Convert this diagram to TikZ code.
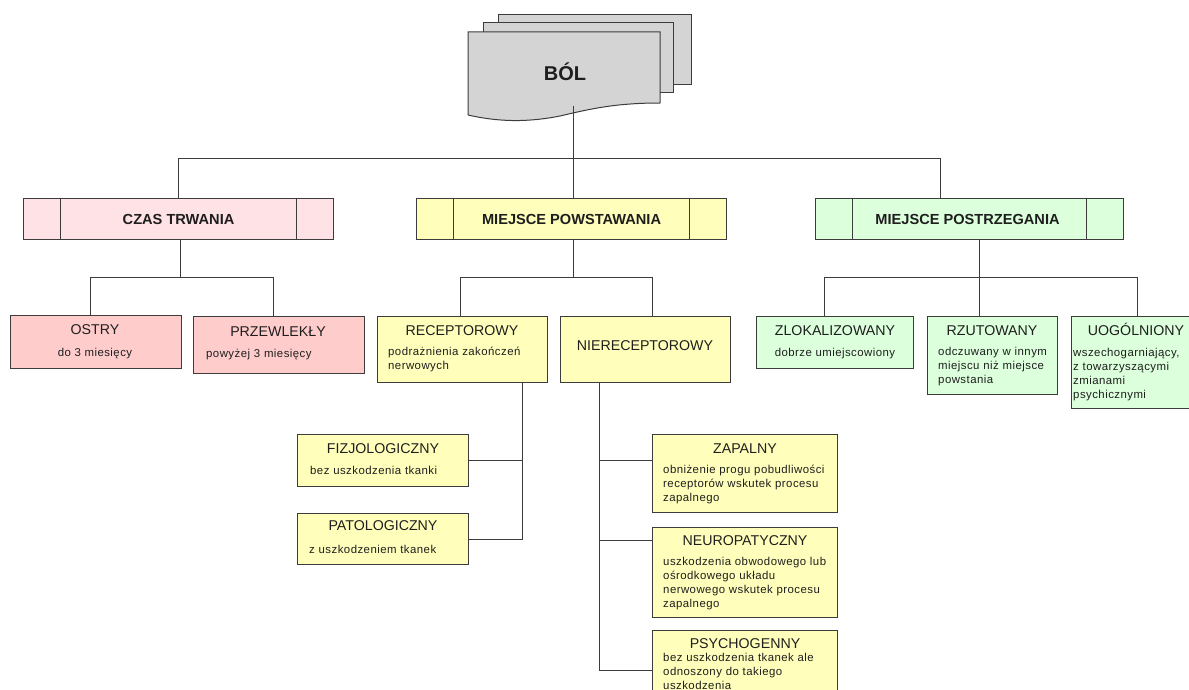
\documentclass[tikz,border=0pt]{standalone}
\usepackage{fontspec}
\setmainfont{Liberation Sans}
\newfontfamily\descfont[LetterSpace=4]{Liberation Sans}
\usepackage{xcolor}
\usepackage{tikz}
\definecolor{pinkhead}{RGB}{255,226,230}
\definecolor{pinkbox}{RGB}{255,204,204}
\definecolor{yellowbox}{RGB}{255,255,187}
\definecolor{greenbox}{RGB}{220,255,220}
\definecolor{docgray}{RGB}{212,212,212}
\definecolor{linegray}{RGB}{60,60,60}
\definecolor{txt}{RGB}{30,30,30}

\begin{document}
\begin{tikzpicture}[x=1pt, y=-1pt,
    box/.style={draw=linegray, line width=1.1pt, inner sep=0pt, anchor=north west},
    head/.style={font=\fontsize{14.6}{16}\selectfont\bfseries, text=txt, inner sep=0pt},
    title/.style={font=\fontsize{14.2}{16}\selectfont, text=txt, inner sep=0pt, anchor=base},
    desc/.style={font=\descfont\fontsize{11.4}{14}\selectfont, text=txt, inner sep=0pt, anchor=base west, align=left},
    link/.style={draw=linegray, line width=1pt}]
    \path[use as bounding box, fill=white] (0,0) rectangle (1189,690);

    % Draw the document stack
    \filldraw[fill=docgray, draw=linegray, line width=1pt] (498,15) rectangle (691,85);
    \filldraw[fill=docgray, draw=linegray, line width=1pt] (483,23) rectangle (673,93);
    \filldraw[fill=docgray, draw=linegray, line width=1pt] (468,32) -- (660,32) -- (660,103)
        .. controls (615,103) and (590,109) .. (560,116)
        .. controls (520,124) and (490,120) .. (468,115) -- cycle;
    \node[head, font=\fontsize{20}{22}\selectfont\bfseries] (bol) at (565,72) {BÓL};
    \coordinate (bolfoot) at (573,106);

    % Define the three main groups
    \node[box, fill=pinkhead, minimum width=310pt, minimum height=41pt] (czas) at (23,198) {};
    \node[box, fill=yellowbox, minimum width=310pt, minimum height=41pt] (powst) at (416,198) {};
    \node[box, fill=greenbox, minimum width=308pt, minimum height=41pt] (postrz) at (815,198) {};
    \foreach \h in {czas,powst,postrz}{
        \draw[link] ([xshift=37.5pt]\h.north west) -- ([xshift=37.5pt]\h.south west);
        \draw[link] ([xshift=-37.5pt]\h.north east) -- ([xshift=-37.5pt]\h.south east);
    }
    \node[head] (czasT) at (czas.center) {CZAS TRWANIA};
    \node[head] (powstT) at (powst.center) {MIEJSCE POWSTAWANIA};
    \node[head] (postrzT) at ([xshift=-2pt]postrz.center) {MIEJSCE POSTRZEGANIA};

    % Czas trwania
    \node[box, fill=pinkbox, minimum width=171pt, minimum height=53pt] (ostry) at (10,315) {};
    \node[title] (ostryT) at (95,334) {OSTRY};
    \node[desc, anchor=base] (ostryD) at (95,356) {do 3 miesięcy};
    \node[box, fill=pinkbox, minimum width=171pt, minimum height=57pt] (przew) at (193,316) {};
    \node[title] (przewT) at (278,336) {PRZEWLEKŁY};
    \node[desc, text width=150pt] (przewD) at (206,357) {powyżej 3 miesięcy};

    % Miejsce powstawania
    \node[box, fill=yellowbox, minimum width=170pt, minimum height=66pt] (recep) at (377,316) {};
    \node[title] (recepT) at (462,335) {RECEPTOROWY};
    \node[desc, text width=150pt] (recepD) at (388,355) {podrażnienia zakończeń\\nerwowych};
    \node[box, fill=yellowbox, minimum width=170pt, minimum height=66pt] (nierec) at (560,316) {};
    \node[title] (nierecT) at (645,350) {NIERECEPTOROWY};

    \node[box, fill=yellowbox, minimum width=171pt, minimum height=52pt] (fizjo) at (297,434) {};
    \node[title] (fizjoT) at (383,453) {FIZJOLOGICZNY};
    \node[desc, text width=150pt] (fizjoD) at (310,474) {bez uszkodzenia tkanki};
    \node[box, fill=yellowbox, minimum width=171pt, minimum height=51pt] (pato) at (297,513) {};
    \node[title] (patoT) at (383,530) {PATOLOGICZNY};
    \node[desc, text width=150pt] (patoD) at (309,553) {z uszkodzeniem tkanek};

    \node[box, fill=yellowbox, minimum width=185pt, minimum height=78pt] (zapal) at (652,434) {};
    \node[title] (zapalT) at (745,453) {ZAPALNY};
    \node[desc, text width=170pt] (zapalD) at (663,473) {obniżenie progu pobudliwości\\receptorów wskutek procesu\\zapalnego};
    \node[box, fill=yellowbox, minimum width=185pt, minimum height=90pt] (neuro) at (652,527) {};
    \node[title] (neuroT) at (745,545) {NEUROPATYCZNY};
    \node[desc, text width=170pt] (neuroD) at (663,565) {uszkodzenia obwodowego lub\\ośrodkowego układu\\nerwowego wskutek procesu\\zapalnego};
    \node[box, fill=yellowbox, minimum width=185pt, minimum height=80pt] (psycho) at (652,630) {};
    \node[title] (psychoT) at (745,648) {PSYCHOGENNY};
    \node[desc, text width=170pt] (psychoD) at (663,661) {bez uszkodzenia tkanek ale\\odnoszony do takiego\\uszkodzenia};

    % Miejsce postrzegania
    \node[box, fill=greenbox, minimum width=157pt, minimum height=52pt] (zlok) at (756,316) {};
    \node[title] (zlokT) at (835,335) {ZLOKALIZOWANY};
    \node[desc, anchor=base] (zlokD) at (835,356) {dobrze umiejscowiony};
    \node[box, fill=greenbox, minimum width=130pt, minimum height=78pt] (rzut) at (927,316) {};
    \node[title] (rzutT) at (992,335) {RZUTOWANY};
    \node[desc, text width=120pt] (rzutD) at (938,355) {odczuwany w innym\\miejscu niż miejsce\\powstania};
    \node[box, fill=greenbox, minimum width=130pt, minimum height=92pt] (uogol) at (1071,316) {};
    \node[title] (uogolT) at (1136,335) {UOGÓLNIONY};
    \node[desc, text width=120pt] (uogolD) at (1073,356) {wszechogarniający,\\z towarzyszącymi\\zmianami\\psychicznymi};

    % Draw the connectors
    \draw[link] (bolfoot) -- ++(0,53) -| (czas.north);
    \draw[link] (bolfoot) -- (bolfoot |- powst.north);
    \draw[link] (bolfoot) -- ++(0,53) -| ([xshift=-29pt]postrz.north);

    \draw[link] ([xshift=2pt]czas.south) -- ++(0,37) -| ([xshift=-6pt]ostry.north);
    \draw[link] ([xshift=2pt]czas.south) -- ++(0,37) -| ([xshift=-6pt]przew.north);
    \draw[link] ([xshift=2pt]powst.south) -- ++(0,37) -| ([xshift=-2pt]recep.north);
    \draw[link] ([xshift=2pt]powst.south) -- ++(0,37) -| ([xshift=7pt]nierec.north);
    \draw[link] ([xshift=10pt]postrz.south) -- ++(0,37) -| ([xshift=-11pt]zlok.north);
    \draw[link] ([xshift=10pt]postrz.south) -- ++(0,37) -| ([xshift=-13pt]rzut.north);
    \draw[link] ([xshift=10pt]postrz.south) -- ++(0,37) -| ([xshift=1pt]uogol.north);

    \draw[link] ([xshift=60pt]recep.south) |- (fizjo.east);
    \draw[link] ([xshift=60pt]recep.south) |- (pato.east);
    \draw[link] ([xshift=-46pt]nierec.south) |- ([yshift=-26pt]zapal.north west);
    \draw[link] ([xshift=-46pt]nierec.south) |- ([yshift=-13pt]neuro.north west);
    \draw[link] ([xshift=-46pt]nierec.south) |- ([yshift=-40pt]psycho.north west);
\end{tikzpicture}
\end{document}
